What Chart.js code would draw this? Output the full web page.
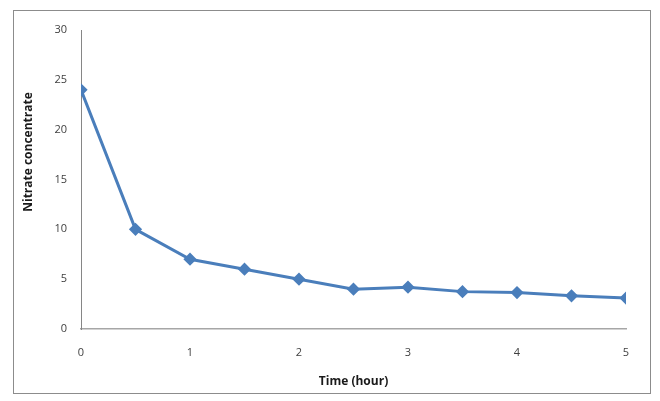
<!DOCTYPE html>
<html>
<head>
<meta charset="utf-8">
<script src="https://cdn.jsdelivr.net/npm/chart.js@4/dist/chart.umd.min.js"></script>
<style>
  html, body { margin: 0; padding: 0; background: #fff; }
  #wrap { position: relative; width: 660px; height: 401px; }
  #frame { position: absolute; left: 13px; top: 10px; width: 636px; height: 382px; border: 1px solid #8c8c8c; pointer-events: none; }
  canvas { position: absolute; left: 0; top: 0; }
</style>
</head>
<body>
<div id="wrap">
  <canvas id="chart" width="660" height="401"></canvas>
  <div id="frame"></div>
</div>
<script>
// Nitrate concentration over time
const times = [0, 0.5, 1, 1.5, 2, 2.5, 3, 3.5, 4, 4.5, 5];
const nitrate = [24, 10, 7, 6, 5, 4, 4.2, 3.75, 3.65, 3.33, 3.1];
const yTicks = [0, 5, 10, 15, 20, 25, 30];
const xTicks = [0, 1, 2, 3, 4, 5];
const yTitle = 'Nitrate concentrate';
const xTitle = 'Time (hour)';

const fontFamily = "'Open Sans', 'Liberation Sans', sans-serif";

// Excel places the value axis title a bit above the middle, so draw it by hand
const yTitlePlugin = {
  id: 'yTitle',
  afterDraw(chart) {
    const c = chart.ctx;
    c.save();
    c.translate(29, 152);
    c.rotate(-Math.PI / 2);
    c.font = `bold 12px ${fontFamily}`;
    c.fillStyle = '#1a1a1a';
    c.textAlign = 'center';
    c.textBaseline = 'middle';
    c.fillText(yTitle, 0, 0);
    c.restore();
  }
};

const ctx = document.getElementById('chart');
new Chart(ctx, {
  type: 'line',
  data: {
    datasets: [{
      label: 'Nitrate',
      data: times.map((t, i) => ({ x: t, y: nitrate[i] })),
      borderColor: '#4a7ebb',
      backgroundColor: '#4a7ebb',
      borderWidth: 3,
      pointStyle: 'rectRot',
      pointRadius: 4.5,
      pointHoverRadius: 4.5,
      tension: 0
    }]
  },
  options: {
    responsive: false,
    animation: false,
    layout: { padding: { left: 14, top: 30, right: 34, bottom: 0 } },
    plugins: {
      legend: { display: false },
      tooltip: { enabled: false }
    },
    scales: {
      x: {
        type: 'linear',
        min: 0,
        max: 5,
        afterBuildTicks: axis => { axis.ticks = xTicks.map(v => ({ value: v })); },
        afterFit: axis => { axis.height = 72; },
        grid: { display: false, drawTicks: false },
        border: { display: true, color: '#a6a6a6', width: 1.5 },
        ticks: { padding: 17, color: '#404040', font: { family: fontFamily, size: 11 }, maxRotation: 0 },
        title: {
          display: true,
          text: xTitle,
          color: '#1a1a1a',
          font: { family: fontFamily, size: 12, weight: 'bold' },
          padding: { top: 0, bottom: 12 }
        }
      },
      y: {
        min: 0,
        max: 30,
        afterBuildTicks: axis => { axis.ticks = yTicks.map(v => ({ value: v })); },
        afterFit: axis => { axis.width = 67; },
        grid: { display: false, drawTicks: false },
        border: { display: true, color: '#868686', width: 1 },
        ticks: { padding: 14, color: '#404040', font: { family: fontFamily, size: 11 } }
      }
    }
  },
  plugins: [yTitlePlugin]
});
</script>
</body>
</html>
